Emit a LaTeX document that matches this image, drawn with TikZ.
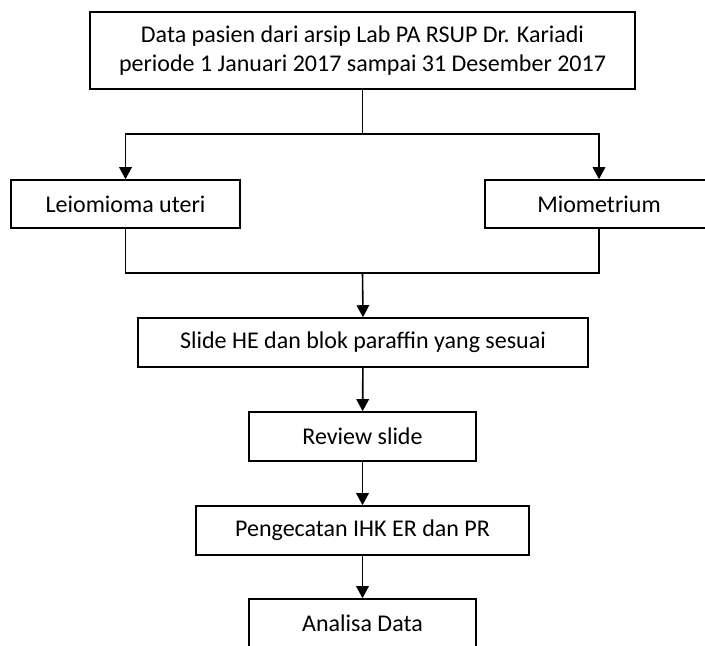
\documentclass[tikz,border=0pt]{standalone}
\usepackage{fontspec}
\setmainfont{Carlito}
\usetikzlibrary{arrows.meta}
\begin{document}
\begin{tikzpicture}[x=1pt,y=-1pt,
  box/.style={draw=black, line width=1.6pt, rectangle, inner sep=0pt, align=center,
    font=\fontsize{24}{29}\selectfont, text=black},
  conn/.style={draw=black, line width=1.6pt},
  arr/.style={conn, -{Triangle[width=12.5pt,length=12pt]}}]
\useasboundingbox (0,0) rectangle (705,646);
\clip (0,0) rectangle (705,646);
\node[box, minimum width=545pt, minimum height=77pt] (top) at (362.5,50.5)
  {Data pasien dari arsip Lab PA RSUP Dr. Kariadi\\periode 1 Januari 2017 sampai 31 Desember 2017};
\node[box, minimum width=229pt, minimum height=48pt] (left) at (125.5,204) {Leiomioma uteri};
\node[box, minimum width=228pt, minimum height=48pt] (right) at (599,204) {Miometrium};
\node[box, minimum width=450pt, minimum height=49pt] (slide) at (363,342.5) {Slide HE dan blok paraffin yang sesuai};
\node[box, minimum width=227pt, minimum height=49pt] (review) at (362.5,436.5) {Review slide};
\node[box, minimum width=333pt, minimum height=49pt] (ihk) at (362.5,530.5) {Pengecatan IHK ER dan PR};
\node[box, minimum width=227pt, minimum height=49pt] (anal) at (362.5,623.5) {Analisa Data};
\coordinate (split) at (362.5,134);
\coordinate (merge) at (362.5,273);
\draw[conn] (top.south) -- (split);
\draw[arr] (split) -| (left.north);
\draw[arr] (split) -| (right.north);
\draw[conn] (left.south) |- (merge);
\draw[conn] (right.south) |- (merge);
\draw[arr] (merge) -- (slide.north);
\draw[arr] (slide) -- (review);
\draw[arr] (review) -- (ihk);
\draw[arr] (ihk) -- (anal);
\end{tikzpicture}
\end{document}
